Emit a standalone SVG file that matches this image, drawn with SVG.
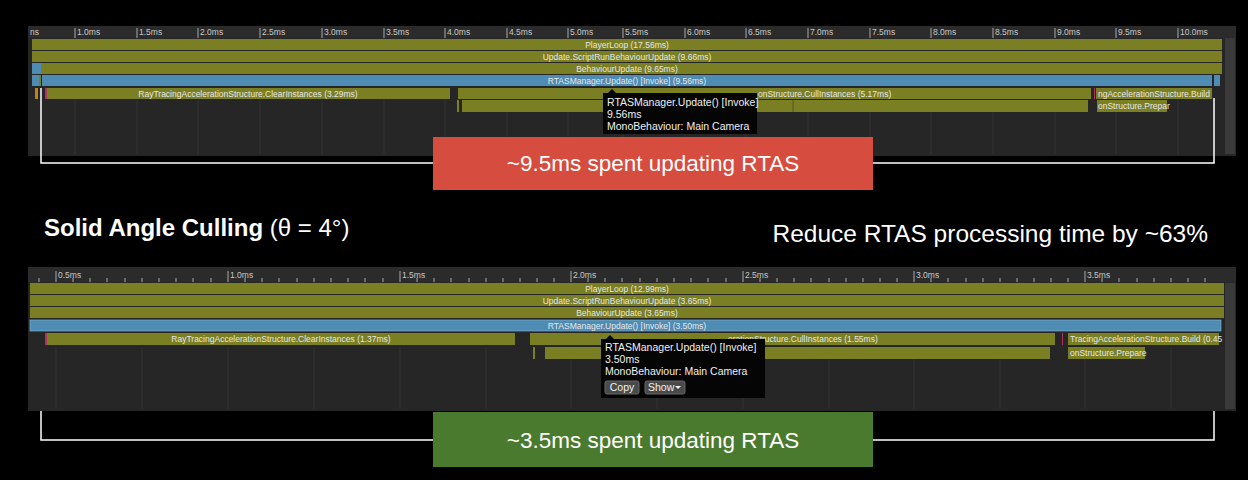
<svg xmlns="http://www.w3.org/2000/svg" width="1248" height="480" viewBox="0 0 1248 480">
<style>
.t{font-family:"Liberation Sans",Arial,sans-serif;font-size:8.5px;fill:#e6e6e6}
.r{font-family:"Liberation Sans",Arial,sans-serif;font-size:8.5px;fill:#c8c8c8}
.o{fill:#7b7f24}
.b{fill:#4f8cb3}
.tip{font-family:"Liberation Sans",Arial,sans-serif;font-size:10.5px;fill:#f0f0f0}
.big{font-family:"Liberation Sans",Arial,sans-serif;font-size:22.5px;fill:#ffffff}
.br{fill:none;stroke:#ffffff;stroke-width:1.5}
.g{stroke:#333333;stroke-width:1}
</style>
<rect width="1248" height="480" fill="#000"/>
<g id="top-panel">
<rect x="28" y="26" width="1208" height="130" fill="#262626"/>
<rect x="28" y="26" width="1208" height="12" fill="#2b2b2b"/>
<rect x="1225" y="38" width="10" height="116" fill="#3a3a3a"/>
<g class="g">
<path d="M75 100V154M137 100V154M198 100V154M260 100V154M322 100V154M384 100V154M445 100V154M507 100V154M568 100V154M623 100V154M685 100V154M746 100V154M808 100V154M870 100V154M931 100V154M993 100V154M1055 100V154M1116 100V154M1178 100V154"/>
</g>
<g stroke="#aaa" stroke-width="1">
<path d="M75 28V38M137 28V38M198 28V38M260 28V38M322 28V38M384 28V38M445 28V38M507 28V38M568 28V38M623 28V38M685 28V38M746 28V38M808 28V38M870 28V38M931 28V38M993 28V38M1055 28V38M1116 28V38M1178 28V38"/>
</g>
<text class="r" x="30" y="35">ns</text>
<text class="r" x="77" y="35">1.0ms</text><text class="r" x="139" y="35">1.5ms</text><text class="r" x="200" y="35">2.0ms</text><text class="r" x="262" y="35">2.5ms</text><text class="r" x="324" y="35">3.0ms</text><text class="r" x="386" y="35">3.5ms</text><text class="r" x="447" y="35">4.0ms</text><text class="r" x="509" y="35">4.5ms</text><text class="r" x="570" y="35">5.0ms</text><text class="r" x="625" y="35">5.5ms</text><text class="r" x="687" y="35">6.0ms</text><text class="r" x="748" y="35">6.5ms</text><text class="r" x="810" y="35">7.0ms</text><text class="r" x="872" y="35">7.5ms</text><text class="r" x="933" y="35">8.0ms</text><text class="r" x="995" y="35">8.5ms</text><text class="r" x="1057" y="35">9.0ms</text><text class="r" x="1118" y="35">9.5ms</text><text class="r" x="1180" y="35">10.0ms</text>
<rect class="o" x="32" y="39" width="1190" height="11"/>
<text class="t" x="627" y="47.5" text-anchor="middle">PlayerLoop (17.56ms)</text>
<rect class="o" x="32" y="51" width="1190" height="11"/>
<text class="t" x="627" y="59.5" text-anchor="middle">Update.ScriptRunBehaviourUpdate (9.66ms)</text>
<rect class="b" x="32" y="63" width="9" height="11"/>
<rect class="o" x="41" y="63" width="1181" height="11"/>
<text class="t" x="627" y="71.5" text-anchor="middle">BehaviourUpdate (9.65ms)</text>
<rect class="b" x="32" y="75" width="7" height="11"/>
<rect class="o" x="39" y="75" width="2" height="11"/>
<rect class="b" x="42" y="75" width="1170" height="11"/>
<rect class="b" x="1214" y="75" width="6" height="11"/>
<text class="t" x="627" y="83.5" text-anchor="middle">RTASManager.Update() [Invoke] (9.56ms)</text>
<rect fill="#c0801c" x="35" y="88" width="3" height="11"/>
<rect fill="#b03060" x="45" y="88" width="2" height="11"/>
<rect class="o" x="47" y="88" width="403" height="11"/>
<text class="t" x="248" y="96.5" text-anchor="middle">RayTracingAccelerationStructure.ClearInstances (3.29ms)</text>
<rect class="o" x="458" y="88" width="633" height="11"/>
<text class="t" x="758" y="96.5">onStructure.CullInstances (5.17ms)</text>
<rect fill="#b03060" x="1094" y="88" width="1" height="11"/>
<rect class="o" x="1096" y="88" width="116" height="11"/>
<text class="t" x="1098" y="96.5">ngAccelerationStructure.Build</text>
<rect class="o" x="457" y="100" width="2" height="12"/>
<rect class="o" x="462" y="100" width="626" height="12"/>
<path d="M756 100V112M793 100V112" stroke="#555a18"/>
<rect class="o" x="1097" y="100" width="70" height="12"/>
<text class="t" x="1098" y="108.5">onStructure.Prepar</text>
</g>
<g id="top-tooltip">
<path d="M603 93H608L612 89L616 93H757V134H603Z" fill="#050505"/>
<text class="tip" x="607" y="106">RTASManager.Update() [Invoke]</text>
<text class="tip" x="607" y="118">9.56ms</text>
<text class="tip" x="607" y="130">MonoBehaviour: Main Camera</text>
</g>
<g id="connectors">
<path class="br" d="M41 88V163H1214V98"/>
<path class="br" d="M41 348V440H1214V348"/>
</g>
<g id="top-box">
<rect x="433" y="137" width="440" height="53" fill="#d64c3e"/>
<text class="big" x="653" y="171" text-anchor="middle">~9.5ms spent updating RTAS</text>
</g>
<g id="heading">
<text x="44" y="236" font-family="'Liberation Sans',Arial,sans-serif" font-size="24" fill="#fff"><tspan font-weight="bold">Solid Angle Culling</tspan> (θ = 4°)</text>
<text x="1208" y="242" text-anchor="end" font-family="'Liberation Sans',Arial,sans-serif" font-size="24.5" fill="#fff">Reduce RTAS processing time by ~63%</text>
</g>
<g id="bottom-panel">
<rect x="28" y="267" width="1208" height="144" fill="#262626"/>
<rect x="28" y="267" width="1208" height="15" fill="#2b2b2b"/>
<rect x="1225" y="283" width="10" height="126" fill="#3a3a3a"/>
<g class="g">
<path d="M56 347V409M228 347V409M400 347V409M571 347V409M743 347V409M914 347V409M1085 347V409M142 347V409M314 347V409M486 347V409M657 347V409M829 347V409M1000 347V409M1171 347V409"/>
</g>
<g stroke="#aaa" stroke-width="1">
<path d="M56 271V282M228 271V282M400 271V282M571 271V282M743 271V282M914 271V282M1085 271V282"/>
<path d="M39 278V282M73 278V282M90 278V282M107 278V282M125 278V282M142 278V282M159 278V282M176 278V282M193 278V282M211 278V282M245 278V282M262 278V282M279 278V282M297 278V282M314 278V282M331 278V282M348 278V282M365 278V282M383 278V282M417 278V282M434 278V282M451 278V282M469 278V282M486 278V282M503 278V282M520 278V282M537 278V282M554 278V282M588 278V282M605 278V282M622 278V282M640 278V282M657 278V282M674 278V282M691 278V282M708 278V282M726 278V282M760 278V282M777 278V282M794 278V282M811 278V282M829 278V282M846 278V282M863 278V282M880 278V282M897 278V282M931 278V282M948 278V282M966 278V282M983 278V282M1000 278V282M1017 278V282M1034 278V282M1051 278V282M1068 278V282M1102 278V282M1119 278V282M1137 278V282M1154 278V282M1171 278V282M1188 278V282M1205 278V282"/>
</g>
<text class="r" x="58" y="278">0.5ms</text><text class="r" x="230" y="278">1.0ms</text><text class="r" x="402" y="278">1.5ms</text><text class="r" x="573" y="278">2.0ms</text><text class="r" x="745" y="278">2.5ms</text><text class="r" x="916" y="278">3.0ms</text><text class="r" x="1087" y="278">3.5ms</text>
<rect class="o" x="30" y="283" width="1194" height="11"/>
<text class="t" x="627" y="291.5" text-anchor="middle">PlayerLoop (12.99ms)</text>
<rect class="o" x="30" y="295" width="1194" height="11"/>
<text class="t" x="627" y="303.5" text-anchor="middle">Update.ScriptRunBehaviourUpdate (3.65ms)</text>
<rect class="o" x="30" y="307" width="1194" height="11"/>
<text class="t" x="627" y="315.5" text-anchor="middle">BehaviourUpdate (3.65ms)</text>
<rect class="b" x="30" y="320" width="1191" height="11" stroke="#8ab8d4" stroke-width="0.6"/>
<text class="t" x="627" y="328.5" text-anchor="middle">RTASManager.Update() [Invoke] (3.50ms)</text>
<rect fill="#b03060" x="45" y="333" width="2" height="12"/>
<rect class="o" x="47" y="333" width="468" height="12"/>
<text class="t" x="281" y="341.5" text-anchor="middle">RayTracingAccelerationStructure.ClearInstances (1.37ms)</text>
<rect class="o" x="530" y="333" width="525" height="12"/>
<text class="t" x="728" y="341.5">erationStructure.CullInstances (1.55ms)</text>
<rect fill="#b03060" x="1062" y="333" width="1" height="12"/>
<rect class="o" x="1068" y="333" width="151" height="12"/>
<text class="t" x="1070" y="341.5">TracingAccelerationStructure.Build (0.45</text>
<rect class="o" x="533" y="347" width="2" height="12"/>
<rect class="o" x="545" y="347" width="505" height="12"/>
<path d="M740 347V359M751 347V359" stroke="#555a18"/>
<rect class="o" x="1068" y="347" width="77" height="12"/>
<text class="t" x="1070" y="355.5">onStructure.Prepare</text>
<text class="t" x="757" y="369">s)</text>
</g>
<g id="bottom-tooltip">
<path d="M601 339H606L610 335L614 339H765V398H601Z" fill="#050505"/>
<text class="tip" x="605" y="351">RTASManager.Update() [Invoke]</text>
<text class="tip" x="605" y="363">3.50ms</text>
<text class="tip" x="605" y="375">MonoBehaviour: Main Camera</text>
<rect x="605" y="381" width="34" height="13" rx="2" fill="#4a4a4a" stroke="#666"/>
<text class="tip" x="622" y="391" text-anchor="middle">Copy</text>
<rect x="645" y="381" width="40" height="13" rx="2" fill="#4a4a4a" stroke="#666"/>
<text class="tip" x="648" y="391">Show</text>
<path d="M675 386H681L678 389Z" fill="#f0f0f0"/>
</g>
<g id="bottom-box">
<rect x="433" y="412" width="440" height="55" fill="#4a7a2d"/>
<text class="big" x="653" y="448" text-anchor="middle">~3.5ms spent updating RTAS</text>
</g>
</svg>
